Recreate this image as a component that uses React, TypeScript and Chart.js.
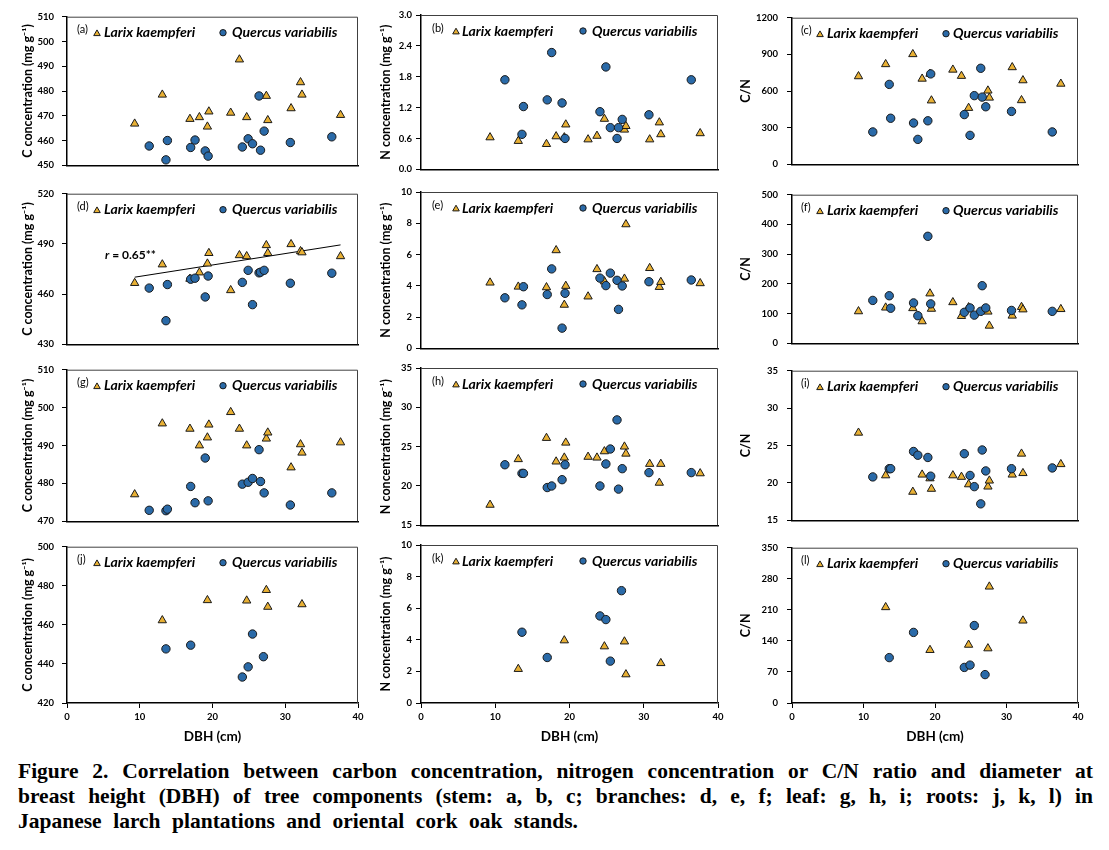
import React, { useEffect, useRef } from "react";
import { Chart, registerables } from "chart.js";
Chart.register(...registerables);

// ---------- DATA ----------
// DBH (cm) of sampled trees (stem, branch, leaf)
const LARIX_DBH = [9.3, 13.1, 16.9, 18.2, 19.3, 19.5, 22.5, 23.7, 24.7, 27.4, 27.6, 30.8, 32.1, 32.3, 37.6];
const QUERCUS_DBH = [11.3, 13.6, 13.8, 17.0, 17.6, 19.0, 19.4, 24.1, 24.9, 25.5, 26.4, 26.6, 27.1, 30.7, 36.4];
// DBH (cm) of trees sampled for roots
const LARIX_ROOT_DBH = [13.1, 19.3, 24.7, 27.4, 27.6, 32.3];
const QUERCUS_ROOT_DBH = [13.6, 17.0, 24.1, 24.9, 25.5, 27.0];

// (a) stem C concentration
const A_LARIX = [466.8, 478.5, 468.7, 469.4, 465.6, 471.7, 471.2, 492.7, 469.4, 478.0, 468.2, 473.0, 483.5, 478.5, 470.3];
const A_QUERCUS = [457.8, 452.2, 460.0, 457.2, 460.2, 455.8, 453.7, 457.4, 460.7, 458.7, 478.0, 456.1, 463.8, 459.2, 461.5];
// (b) stem N concentration
const B_LARIX = [0.62, 0.55, 0.49, 0.64, 0.62, 0.87, 0.58, 0.65, 0.98, 0.77, 0.84, 0.58, 0.91, 0.68, 0.7];
const B_QUERCUS = [1.74, 0.68, 1.22, 1.35, 2.27, 1.29, 0.6, 1.12, 1.99, 0.81, 0.6, 0.81, 0.97, 1.06, 1.74];
// (c) stem C/N
const C_LARIX = [720, 819, 901, 700, 740, 522, 774, 723, 461, 603, 545, 794, 524, 687, 659];
const C_QUERCUS = [265, 654, 377, 338, 204, 356, 740, 407, 237, 562, 786, 550, 471, 433, 265];
// (d) branch C concentration
const D_LARIX = [466.6, 477.7, 469.1, 472.9, 478.2, 484.5, 462.3, 483.2, 482.6, 489.2, 484.5, 489.8, 485.6, 484.9, 482.6];
const D_QUERCUS = [463.6, 444.1, 465.7, 468.9, 469.5, 458.3, 470.8, 467.0, 474.2, 453.7, 472.7, 473.1, 474.2, 466.5, 472.5];
// (d) fitted line for Larix (end points)
const D_TREND_X = [9.3, 37.6];
const D_TREND_Y = [470.1, 489.4];
const D_NOTE = "0.65**";
// (e) branch N concentration
const E_LARIX = [4.2, 3.94, 3.9, 6.27, 2.78, 3.99, 3.31, 5.06, 4.28, 4.45, 7.93, 5.13, 3.92, 4.24, 4.16];
const E_QUERCUS = [3.23, 2.78, 3.94, 3.44, 5.08, 1.29, 3.52, 4.49, 4.01, 4.81, 4.35, 2.49, 3.99, 4.26, 4.37];
// (f) branch C/N
const F_LARIX = [107.5, 120, 118, 73.8, 167.5, 115.9, 138, 91.7, 121, 106.4, 59, 92.8, 122, 113.8, 114.9];
const F_QUERCUS = [144.3, 160, 118, 135.9, 92.8, 360, 132.7, 104.3, 119, 94.8, 107.5, 193.8, 119, 110.6, 107.5];
// (g) leaf C concentration
const G_LARIX = [477.1, 495.8, 494.4, 490.0, 492.1, 495.5, 498.8, 494.4, 490.0, 491.8, 493.4, 484.2, 490.3, 488.1, 490.8];
const G_QUERCUS = [472.9, 472.8, 473.2, 479.2, 474.9, 486.7, 475.4, 479.8, 480.3, 481.3, 488.9, 480.5, 477.5, 474.3, 477.5];
// (h) leaf N concentration
const H_LARIX = [17.6, 23.4, 26.1, 23.1, 23.6, 25.5, 23.7, 23.6, 24.4, 25.0, 24.1, 22.8, 20.4, 22.8, 21.6];
const H_QUERCUS = [22.7, 21.6, 21.6, 19.8, 20.0, 20.8, 22.7, 20.0, 22.8, 24.7, 28.4, 19.6, 22.2, 21.7, 21.7];
// (i) leaf C/N
const I_LARIX = [26.7, 21.0, 18.8, 21.1, 20.6, 19.2, 21.0, 20.8, 19.8, 19.5, 20.3, 21.1, 23.9, 21.3, 22.5];
const I_QUERCUS = [20.8, 21.9, 21.9, 24.2, 23.7, 23.4, 20.9, 23.9, 21.0, 19.5, 17.2, 24.4, 21.6, 21.9, 22.0];
// (j) root C concentration
const J_LARIX = [462.3, 472.6, 472.4, 477.8, 469.2, 470.5];
const J_QUERCUS = [447.7, 449.6, 433.3, 438.5, 455.3, 443.7];
// (k) root N concentration
const K_LARIX = [2.15, 3.96, 3.58, 3.89, 1.81, 2.52];
const K_QUERCUS = [4.48, 2.88, 5.51, 5.28, 2.65, 7.11];
// (l) root C/N
const L_LARIX = [215.8, 119.3, 131.1, 123, 262.2, 185.6];
const L_QUERCUS = [102.3, 159.1, 80.2, 85.4, 174.6, 64.0];

// tick labels
const TICKS_A = [450, 460, 470, 480, 490, 500, 510];
const TICKS_B = [0, 0.6, 1.2, 1.8, 2.4, 3.0];
const TICKS_C = [0, 300, 600, 900, 1200];
const TICKS_D = [430, 460, 490, 520];
const TICKS_E = [0, 2, 4, 6, 8, 10];
const TICKS_F = [0, 100, 200, 300, 400, 500];
const TICKS_G = [470, 480, 490, 500, 510];
const TICKS_H = [15, 20, 25, 30, 35];
const TICKS_I = [15, 20, 25, 30, 35];
const TICKS_J = [420, 440, 460, 480, 500];
const TICKS_K = [0, 2, 4, 6, 8, 10];
const TICKS_L = [0, 70, 140, 210, 280, 350];
const X_TICKS = [0, 10, 20, 30, 40];

const LABEL_LARIX = "Larix kaempferi";
const LABEL_QUERCUS = "Quercus variabilis";
const TITLE_C = "C concentration (mg g\u207B\u00B9)";
const TITLE_N = "N concentration (mg g\u207B\u00B9)";
const TITLE_CN = "C/N";
const TITLE_X = "DBH (cm)";

const CAPTION_1 = "Figure 2. Correlation between carbon concentration, nitrogen concentration or C/N ratio and diameter at";
const CAPTION_2 = "breast height (DBH) of tree components (stem: a, b, c; branches: d, e, f; leaf: g, h, i; roots: j, k, l) in";
const CAPTION_3 = "Japanese larch plantations and oriental cork oak stands.";

// ---------- STYLE / LAYOUT ----------
const FONT = 'Lato, "Open Sans", "DejaVu Sans", sans-serif';
const LARIX_COLOR = "#E8B034";
const QUERCUS_COLOR = "#2A6AA8";
const EDGE = "#1a1a1a";

const CANVAS_LEFT = [0, 370, 735];
const PLOT_LEFT = [67, 421, 792];
const PLOT_RIGHT = [358, 718, 1078];
const PLOT_TOP = [15, 192, 368, 545];
const PLOT_BOTTOM = [171, 350, 527, 703];
const TICK_PAD = [8, 4, 9];
const YTITLE_PAD = [20, 8, 3];
const TOP_PAD = 12;
const RIGHT_PAD = 14;
const LEGEND_DY = 16;
const LEGEND_OFF = [
  { letter: 10, tri: 30, triText: 37, circ: 156, circText: 165 },
  { letter: 11, tri: 35, triText: 41, circ: 162, circText: 171 },
  { letter: 9, tri: 28, triText: 35, circ: 154, circText: 161 },
];

type Spec = {
  letter: string;
  row: number;
  col: number;
  ticks: number[];
  lx: number[];
  ly: number[];
  qx: number[];
  qy: number[];
  title: string;
  decimals?: number;
  trendX?: number[];
  trendY?: number[];
  note?: string;
};

const PANELS: Spec[] = [
  { letter: "a", row: 0, col: 0, ticks: TICKS_A, lx: LARIX_DBH, ly: A_LARIX, qx: QUERCUS_DBH, qy: A_QUERCUS, title: TITLE_C },
  { letter: "b", row: 0, col: 1, ticks: TICKS_B, lx: LARIX_DBH, ly: B_LARIX, qx: QUERCUS_DBH, qy: B_QUERCUS, title: TITLE_N, decimals: 1 },
  { letter: "c", row: 0, col: 2, ticks: TICKS_C, lx: LARIX_DBH, ly: C_LARIX, qx: QUERCUS_DBH, qy: C_QUERCUS, title: TITLE_CN },
  { letter: "d", row: 1, col: 0, ticks: TICKS_D, lx: LARIX_DBH, ly: D_LARIX, qx: QUERCUS_DBH, qy: D_QUERCUS, title: TITLE_C, trendX: D_TREND_X, trendY: D_TREND_Y, note: D_NOTE },
  { letter: "e", row: 1, col: 1, ticks: TICKS_E, lx: LARIX_DBH, ly: E_LARIX, qx: QUERCUS_DBH, qy: E_QUERCUS, title: TITLE_N },
  { letter: "f", row: 1, col: 2, ticks: TICKS_F, lx: LARIX_DBH, ly: F_LARIX, qx: QUERCUS_DBH, qy: F_QUERCUS, title: TITLE_CN },
  { letter: "g", row: 2, col: 0, ticks: TICKS_G, lx: LARIX_DBH, ly: G_LARIX, qx: QUERCUS_DBH, qy: G_QUERCUS, title: TITLE_C },
  { letter: "h", row: 2, col: 1, ticks: TICKS_H, lx: LARIX_DBH, ly: H_LARIX, qx: QUERCUS_DBH, qy: H_QUERCUS, title: TITLE_N },
  { letter: "i", row: 2, col: 2, ticks: TICKS_I, lx: LARIX_DBH, ly: I_LARIX, qx: QUERCUS_DBH, qy: I_QUERCUS, title: TITLE_CN },
  { letter: "j", row: 3, col: 0, ticks: TICKS_J, lx: LARIX_ROOT_DBH, ly: J_LARIX, qx: QUERCUS_ROOT_DBH, qy: J_QUERCUS, title: TITLE_C },
  { letter: "k", row: 3, col: 1, ticks: TICKS_K, lx: LARIX_ROOT_DBH, ly: K_LARIX, qx: QUERCUS_ROOT_DBH, qy: K_QUERCUS, title: TITLE_N },
  { letter: "l", row: 3, col: 2, ticks: TICKS_L, lx: LARIX_ROOT_DBH, ly: L_LARIX, qx: QUERCUS_ROOT_DBH, qy: L_QUERCUS, title: TITLE_CN },
];

function drawTriangle(ctx: CanvasRenderingContext2D, x: number, y: number, r: number) {
  ctx.beginPath();
  ctx.moveTo(x, y - r);
  ctx.lineTo(x + r * 0.866, y + r / 2);
  ctx.lineTo(x - r * 0.866, y + r / 2);
  ctx.closePath();
  ctx.fill();
  ctx.stroke();
}

const decorPlugin = {
  id: "decor",
  beforeDatasetsDraw(chart: any) {
    const { ctx, chartArea: a } = chart;
    ctx.save();
    ctx.strokeStyle = "#404040";
    ctx.lineWidth = 1;
    ctx.beginPath();
    ctx.moveTo(a.left, a.top + 0.5);
    ctx.lineTo(a.right - 0.5, a.top + 0.5);
    ctx.lineTo(a.right - 0.5, a.bottom);
    ctx.stroke();
    ctx.restore();
  },
  afterDraw(chart: any, _args: any, opts: any) {
    const { ctx, chartArea: a } = chart;
    const L = LEGEND_OFF[opts.col];
    const y = a.top + LEGEND_DY;
    ctx.save();
    ctx.textBaseline = "middle";
    ctx.textAlign = "left";
    ctx.fillStyle = "#000";
    ctx.font = `11px ${FONT}`;
    ctx.fillText(`(${opts.letter})`, a.left + L.letter, y - 3);
    ctx.lineWidth = 1;
    ctx.strokeStyle = EDGE;
    ctx.fillStyle = LARIX_COLOR;
    drawTriangle(ctx, a.left + L.tri, y + 1, 3.8);
    ctx.fillStyle = QUERCUS_COLOR;
    ctx.beginPath();
    ctx.arc(a.left + L.circ, y, 3.2, 0, Math.PI * 2);
    ctx.fill();
    ctx.stroke();
    ctx.fillStyle = "#000";
    ctx.font = `italic bold 14px ${FONT}`;
    ctx.fillText(LABEL_LARIX, a.left + L.triText, y);
    ctx.fillText(LABEL_QUERCUS, a.left + L.circText, y);
    if (opts.note) {
      const nx = a.left + 38;
      const ny = a.top + 61;
      ctx.font = `italic bold 12px ${FONT}`;
      ctx.fillText("r", nx, ny);
      const w = ctx.measureText("r").width;
      ctx.font = `bold 12px ${FONT}`;
      ctx.fillText(` = ${opts.note}`, nx + w, ny);
    }
    ctx.restore();
  },
};

function Panel({ spec }: { spec: Spec }) {
  const ref = useRef<HTMLCanvasElement>(null);
  const { row, col } = spec;
  const isBottom = row === 3;
  const canvasLeft = CANVAS_LEFT[col];
  const yw = PLOT_LEFT[col] - canvasLeft;
  const xh = isBottom ? 42 : 8;
  const canvasTop = PLOT_TOP[row] - TOP_PAD;
  const width = PLOT_RIGHT[col] + RIGHT_PAD - canvasLeft;
  const height = PLOT_BOTTOM[row] + xh - canvasTop;

  useEffect(() => {
    if (!ref.current) return;
    const datasets: any[] = [
      {
        label: LABEL_QUERCUS,
        data: spec.qx.map((x, i) => ({ x, y: spec.qy[i] })),
        pointStyle: "circle",
        pointRadius: 4.2,
        backgroundColor: QUERCUS_COLOR,
        borderColor: EDGE,
        borderWidth: 1,
        order: 0,
      },
      {
        label: LABEL_LARIX,
        data: spec.lx.map((x, i) => ({ x, y: spec.ly[i] })),
        pointStyle: "triangle",
        pointRadius: 4.8,
        backgroundColor: LARIX_COLOR,
        borderColor: EDGE,
        borderWidth: 1,
        order: 1,
      },
    ];
    if (spec.trendX && spec.trendY) {
      datasets.push({
        type: "line",
        label: "fit",
        data: spec.trendX.map((x, i) => ({ x, y: spec.trendY![i] })),
        borderColor: "#000",
        borderWidth: 1,
        pointRadius: 0,
        showLine: true,
        fill: false,
        order: 2,
      });
    }
    const ticks = spec.ticks;
    const chart = new Chart(ref.current, {
      type: "scatter",
      data: { datasets },
      plugins: [decorPlugin as any],
      options: {
        responsive: false,
        animation: false,
        devicePixelRatio: 1,
        events: [],
        layout: { padding: { top: TOP_PAD, right: RIGHT_PAD, left: 0, bottom: 0 } },
        plugins: {
          legend: { display: false },
          tooltip: { enabled: false },
          decor: { letter: spec.letter, col, note: spec.note },
        } as any,
        scales: {
          x: {
            type: "linear",
            min: 0,
            max: 40,
            afterBuildTicks: (s: any) => {
              s.ticks = X_TICKS.map((v) => ({ value: v }));
            },
            afterFit: (s: any) => {
              s.height = xh;
            },
            border: { display: true, color: "#000", width: 1.5 },
            grid: { display: isBottom, drawOnChartArea: false, drawTicks: true, tickLength: 5, color: "#000", lineWidth: 1 },
            ticks: { display: isBottom, padding: 3, color: "#000", font: { family: FONT, size: 9.5, weight: "bold" } },
            title: {
              display: isBottom,
              text: TITLE_X,
              color: "#000",
              font: { family: FONT, size: 13.5, weight: "bold" },
              padding: { top: 0, bottom: 0 },
            },
          },
          y: {
            type: "linear",
            min: ticks[0],
            max: ticks[ticks.length - 1],
            afterBuildTicks: (s: any) => {
              s.ticks = ticks.map((v) => ({ value: v }));
            },
            afterFit: (s: any) => {
              s.width = yw;
            },
            border: { display: true, color: "#000", width: 1.5 },
            grid: { display: true, drawOnChartArea: false, drawTicks: true, tickLength: 5, color: "#000", lineWidth: 1 },
            ticks: {
              padding: TICK_PAD[col],
              color: "#000",
              font: { family: FONT, size: 9.5, weight: "bold" },
              callback: (v: any) => (spec.decimals ? Number(v).toFixed(spec.decimals) : String(v)),
            },
            title: {
              display: true,
              text: spec.title,
              color: "#000",
              font: { family: FONT, size: 12.5, weight: "bold" },
              padding: { top: YTITLE_PAD[col], bottom: 0 },
            },
          },
        },
      } as any,
    });
    return () => chart.destroy();
  }, []);

  return (
    <canvas
      ref={ref}
      width={width}
      height={height}
      style={{ position: "absolute", left: canvasLeft, top: canvasTop, width, height }}
    />
  );
}

export default function App() {
  const lineStyle: React.CSSProperties = { textAlign: "justify", textAlignLast: "justify" as any, whiteSpace: "normal" };
  return (
    <div style={{ position: "absolute", left: 0, top: 0, width: 1109, height: 850, background: "#fff", overflow: "hidden" }}>
      {PANELS.map((p) => (
        <Panel key={p.letter} spec={p} />
      ))}
      <div
        style={{
          position: "absolute",
          left: 18,
          top: 759,
          width: 1075,
          fontFamily: '"Liberation Serif", "Times New Roman", serif',
          fontWeight: "bold",
          fontSize: 21.5,
          lineHeight: "25px",
          color: "#000",
        }}
      >
        <div style={lineStyle}>{CAPTION_1}</div>
        <div style={lineStyle}>{CAPTION_2}</div>
        <div style={{ ...lineStyle, width: 560 }}>{CAPTION_3}</div>
      </div>
    </div>
  );
}
